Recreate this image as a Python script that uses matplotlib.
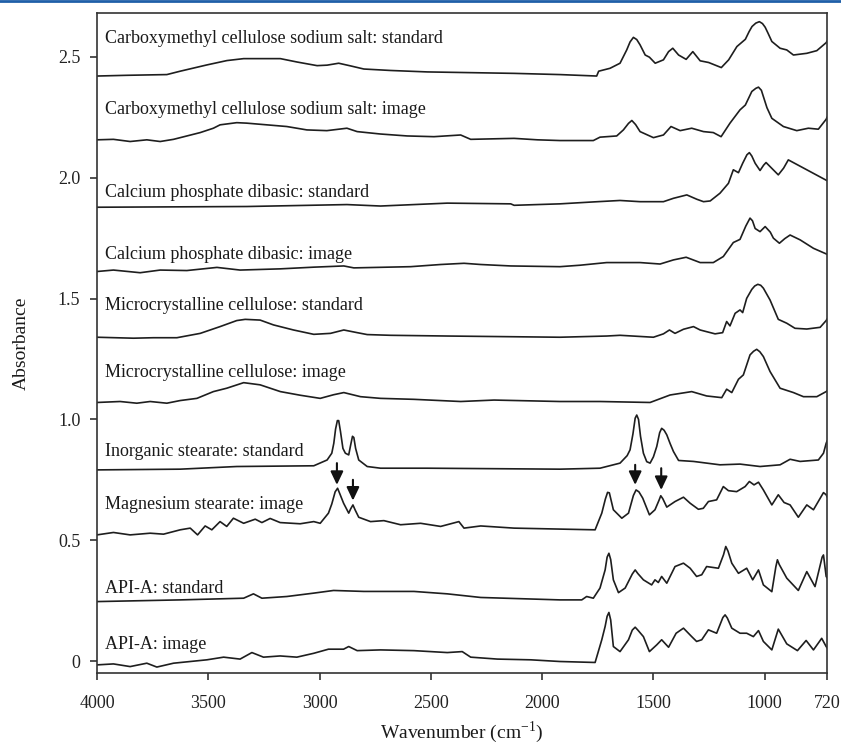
import numpy as np
import matplotlib
matplotlib.use("Agg")
import matplotlib.pyplot as plt
from matplotlib.lines import Line2D

plt.rcParams["font.family"] = ["Liberation Serif", "DejaVu Serif"]
plt.rcParams["mathtext.fontset"] = "custom"
plt.rcParams["mathtext.rm"] = "Liberation Serif"

# ---- spectra (wavenumber cm-1, absorbance) ----
cmc_std_wn = [4000, 3866, 3686, 3626, 3506, 3416, 3341, 3176, 3101, 3011, 2966, 2914, 2861, 2801,
              2681, 2516, 2321, 2126, 1920, 1755, 1746, 1695, 1650, 1620, 1605, 1590, 1575, 1560,
              1537, 1518, 1492, 1455, 1432, 1413, 1387, 1353, 1323, 1290, 1252, 1195, 1162, 1125,
              1087, 1070, 1057, 1040, 1024, 1010, 998, 985, 968, 931, 901, 871, 811, 766, 724, 720]
cmc_std_abs = [2.421, 2.424, 2.427, 2.441, 2.467, 2.485, 2.493, 2.493, 2.479, 2.464, 2.466, 2.474, 2.463, 2.450,
               2.444, 2.438, 2.435, 2.432, 2.427, 2.421, 2.441, 2.453, 2.474, 2.529, 2.562, 2.581, 2.572, 2.550,
               2.508, 2.499, 2.474, 2.488, 2.522, 2.536, 2.508, 2.490, 2.522, 2.484, 2.477, 2.456, 2.488, 2.543,
               2.573, 2.605, 2.626, 2.640, 2.646, 2.638, 2.623, 2.598, 2.564, 2.536, 2.529, 2.508, 2.515, 2.526,
               2.559, 2.565]

cmc_img_wn = [4000, 3926, 3851, 3776, 3716, 3656, 3596, 3536, 3477, 3447, 3372, 3327, 3237, 3147,
              3057, 2967, 2877, 2831, 2726, 2606, 2486, 2366, 2321, 2126, 2021, 1920, 1770, 1740,
              1665, 1635, 1612, 1597, 1580, 1560, 1500, 1455, 1421, 1380, 1328, 1275, 1231, 1196,
              1156, 1111, 1087, 1058, 1040, 1028, 1015, 1006, 990, 968, 916, 856, 804, 759, 724, 720]
cmc_img_abs = [2.157, 2.159, 2.150, 2.157, 2.150, 2.159, 2.173, 2.187, 2.205, 2.219, 2.228, 2.226, 2.219, 2.212,
               2.198, 2.195, 2.205, 2.191, 2.181, 2.173, 2.170, 2.177, 2.159, 2.163, 2.157, 2.154, 2.154, 2.168,
               2.173, 2.198, 2.225, 2.237, 2.220, 2.191, 2.166, 2.177, 2.212, 2.195, 2.205, 2.191, 2.187, 2.170,
               2.226, 2.281, 2.301, 2.357, 2.370, 2.375, 2.362, 2.336, 2.290, 2.246, 2.212, 2.195, 2.205, 2.201,
               2.242, 2.250]

cap_std_wn = [4000, 3327, 2877, 2726, 2426, 2141, 2126, 1920, 1770, 1650, 1560, 1455, 1410, 1350,
              1305, 1275, 1245, 1201, 1163, 1141, 1118, 1099, 1080, 1069, 1058, 1043, 1021, 1005,
              994, 980, 939, 915, 894, 720]
cap_std_abs = [1.878, 1.881, 1.889, 1.883, 1.895, 1.892, 1.886, 1.892, 1.900, 1.906, 1.901, 1.901, 1.915, 1.929,
               1.911, 1.901, 1.904, 1.936, 1.977, 2.033, 2.021, 2.060, 2.095, 2.104, 2.090, 2.060, 2.030, 2.052,
               2.063, 2.050, 2.012, 2.040, 2.074, 1.988]

cap_img_wn = [4000, 3926, 3806, 3716, 3596, 3461, 3357, 3176, 3026, 2891, 2846, 2591, 2456, 2351,
              2276, 2141, 1920, 1830, 1710, 1560, 1470, 1410, 1353, 1290, 1231, 1186, 1141, 1111,
              1085, 1066, 1055, 1043, 1021, 998, 975, 961, 934, 910, 886, 841, 781, 724, 720]
cap_img_abs = [1.612, 1.618, 1.607, 1.618, 1.616, 1.629, 1.618, 1.623, 1.630, 1.635, 1.627, 1.632, 1.641, 1.646,
               1.641, 1.635, 1.632, 1.638, 1.649, 1.649, 1.643, 1.660, 1.671, 1.649, 1.649, 1.674, 1.732, 1.745,
               1.800, 1.833, 1.822, 1.790, 1.777, 1.798, 1.775, 1.750, 1.729, 1.748, 1.763, 1.743, 1.708, 1.685,
               1.683]

mcc_std_wn = [4000, 3836, 3746, 3641, 3536, 3447, 3372, 3334, 3267, 3207, 3117, 3026, 2951, 2891,
              2831, 2786, 2681, 2426, 1920, 1710, 1650, 1500, 1455, 1428, 1403, 1365, 1320, 1290,
              1261, 1223, 1189, 1171, 1156, 1133, 1111, 1099, 1081, 1058, 1045, 1031, 1018, 1006,
              976, 939, 901, 864, 811, 751, 724, 720]
mcc_std_abs = [1.340, 1.336, 1.338, 1.338, 1.356, 1.384, 1.409, 1.414, 1.411, 1.391, 1.370, 1.352, 1.356, 1.370,
               1.359, 1.351, 1.348, 1.345, 1.340, 1.345, 1.348, 1.340, 1.354, 1.370, 1.356, 1.373, 1.384, 1.370,
               1.363, 1.354, 1.359, 1.405, 1.387, 1.439, 1.453, 1.442, 1.501, 1.538, 1.552, 1.559, 1.555, 1.543,
               1.494, 1.414, 1.398, 1.377, 1.374, 1.381, 1.409, 1.415]

mcc_img_wn = [4000, 3896, 3821, 3761, 3686, 3626, 3551, 3477, 3417, 3341, 3267, 3176, 3087, 2997,
              2937, 2891, 2816, 2726, 2576, 2366, 2216, 1920, 1740, 1515, 1425, 1328, 1261, 1193,
              1171, 1148, 1118, 1096, 1066, 1050, 1036, 1022, 1006, 976, 931, 871, 826, 766, 724, 720]
mcc_img_abs = [1.070, 1.074, 1.067, 1.074, 1.067, 1.078, 1.087, 1.115, 1.129, 1.152, 1.143, 1.115, 1.100, 1.087,
               1.102, 1.111, 1.094, 1.087, 1.083, 1.074, 1.080, 1.074, 1.074, 1.070, 1.101, 1.115, 1.097, 1.090,
               1.125, 1.111, 1.166, 1.184, 1.267, 1.282, 1.290, 1.280, 1.260, 1.198, 1.129, 1.111, 1.094, 1.094,
               1.115, 1.118]

ist_std_wn = [4000, 3626, 3372, 3026, 2966, 2945, 2936, 2928, 2920, 2914, 2906, 2895, 2884, 2869,
              2860, 2852, 2846, 2838, 2824, 2786, 2726, 2516, 1920, 1740, 1650, 1618, 1605, 1592,
              1582, 1575, 1567, 1558, 1545, 1530, 1515, 1500, 1485, 1472, 1463, 1452, 1440, 1425,
              1410, 1387, 1320, 1201, 1111, 1021, 931, 886, 841, 759, 736, 724, 720]
ist_std_abs = [0.791, 0.794, 0.805, 0.808, 0.832, 0.860, 0.901, 0.960, 0.995, 0.995, 0.950, 0.880, 0.860, 0.853,
               0.895, 0.930, 0.925, 0.880, 0.832, 0.805, 0.798, 0.798, 0.794, 0.798, 0.819, 0.850, 0.874, 0.940,
               1.005, 1.018, 1.000, 0.930, 0.860, 0.825, 0.819, 0.845, 0.888, 0.945, 0.963, 0.955, 0.936, 0.900,
               0.867, 0.830, 0.826, 0.812, 0.815, 0.805, 0.812, 0.835, 0.826, 0.832, 0.860, 0.901, 0.910]

mgst_img_wn = [4000, 3926, 3851, 3761, 3701, 3626, 3581, 3548, 3514, 3484, 3447, 3417, 3387, 3341,
               3289, 3259, 3222, 3177, 3087, 3026, 2997, 2960, 2945, 2930, 2919, 2908, 2892, 2869,
               2860, 2850, 2840, 2824, 2771, 2711, 2636, 2546, 2456, 2374, 2351, 2276, 2126, 1920,
               1762, 1732, 1716, 1706, 1698, 1680, 1642, 1612, 1590, 1578, 1565, 1548, 1518, 1493,
               1475, 1467, 1458, 1440, 1403, 1365, 1335, 1298, 1276, 1253, 1216, 1186, 1163, 1126,
               1088, 1069, 1048, 1028, 1006, 968, 939, 913, 886, 849, 811, 781, 736, 724, 720]
mgst_img_abs = [0.522, 0.532, 0.522, 0.529, 0.525, 0.543, 0.550, 0.522, 0.559, 0.543, 0.577, 0.557, 0.591, 0.570,
                0.587, 0.573, 0.590, 0.573, 0.568, 0.577, 0.570, 0.612, 0.650, 0.700, 0.715, 0.690, 0.653, 0.612,
                0.630, 0.646, 0.625, 0.595, 0.577, 0.581, 0.564, 0.570, 0.557, 0.577, 0.550, 0.559, 0.550, 0.546,
                0.543, 0.612, 0.670, 0.698, 0.696, 0.626, 0.591, 0.612, 0.685, 0.708, 0.700, 0.674, 0.605, 0.626,
                0.665, 0.684, 0.672, 0.637, 0.660, 0.678, 0.653, 0.628, 0.632, 0.660, 0.667, 0.722, 0.705, 0.701,
                0.722, 0.743, 0.729, 0.740, 0.708, 0.646, 0.688, 0.656, 0.646, 0.595, 0.646, 0.626, 0.697, 0.688,
                0.680]

api_std_wn = [4000, 3626, 3341, 3297, 3259, 3147, 3026, 2937, 2801, 2576, 2426, 2276, 1920, 1822,
              1800, 1770, 1740, 1717, 1708, 1700, 1692, 1680, 1657, 1627, 1595, 1582, 1570, 1545,
              1508, 1493, 1478, 1463, 1440, 1403, 1365, 1335, 1306, 1283, 1261, 1208, 1185, 1175,
              1165, 1148, 1118, 1081, 1054, 1028, 1006, 968, 950, 943, 935, 901, 849, 811, 774,
              742, 736, 724, 720]
api_std_abs = [0.246, 0.253, 0.260, 0.278, 0.260, 0.267, 0.281, 0.292, 0.288, 0.288, 0.278, 0.263, 0.253, 0.253,
               0.267, 0.260, 0.302, 0.377, 0.430, 0.446, 0.420, 0.336, 0.283, 0.302, 0.360, 0.377, 0.362, 0.336,
               0.315, 0.336, 0.325, 0.350, 0.322, 0.391, 0.405, 0.384, 0.350, 0.357, 0.391, 0.384, 0.440, 0.474,
               0.455, 0.405, 0.363, 0.384, 0.336, 0.377, 0.315, 0.287, 0.390, 0.419, 0.400, 0.343, 0.292, 0.370,
               0.308, 0.430, 0.439, 0.350, 0.345]

api_img_wn = [4000, 3926, 3851, 3776, 3731, 3656, 3581, 3506, 3431, 3357, 3304, 3252, 3177, 3102,
              3026, 2960, 2892, 2869, 2831, 2726, 2576, 2426, 2359, 2321, 2201, 2051, 1920, 1762,
              1732, 1717, 1708, 1700, 1692, 1680, 1650, 1612, 1595, 1582, 1570, 1545, 1518, 1485,
              1463, 1432, 1398, 1365, 1328, 1306, 1283, 1253, 1216, 1188, 1178, 1168, 1148, 1111,
              1081, 1051, 1028, 1006, 968, 939, 901, 853, 814, 781, 744, 724, 720]
api_img_abs = [-0.016, -0.012, -0.023, -0.009, -0.025, -0.009, -0.002, 0.005, 0.016, 0.008, 0.035, 0.016, 0.021, 0.016,
               0.032, 0.049, 0.049, 0.060, 0.043, 0.046, 0.043, 0.035, 0.039, 0.016, 0.008, 0.005, -0.002, -0.006,
               0.088, 0.143, 0.185, 0.201, 0.170, 0.060, 0.039, 0.088, 0.128, 0.140, 0.128, 0.101, 0.039, 0.067,
               0.088, 0.057, 0.115, 0.136, 0.101, 0.081, 0.088, 0.129, 0.115, 0.180, 0.191, 0.178, 0.136, 0.115,
               0.115, 0.101, 0.126, 0.081, 0.046, 0.132, 0.071, 0.043, 0.085, 0.046, 0.094, 0.060, 0.055]

spectra = [
    (cmc_std_wn, cmc_std_abs), (cmc_img_wn, cmc_img_abs),
    (cap_std_wn, cap_std_abs), (cap_img_wn, cap_img_abs),
    (mcc_std_wn, mcc_std_abs), (mcc_img_wn, mcc_img_abs),
    (ist_std_wn, ist_std_abs), (mgst_img_wn, mgst_img_abs),
    (api_std_wn, api_std_abs), (api_img_wn, api_img_abs),
]

labels = ["Carboxymethyl cellulose sodium salt: standard",
          "Carboxymethyl cellulose sodium salt: image",
          "Calcium phosphate dibasic: standard",
          "Calcium phosphate dibasic: image",
          "Microcrystalline cellulose: standard",
          "Microcrystalline cellulose: image",
          "Inorganic stearate: standard",
          "Magnesium stearate: image",
          "API-A: standard",
          "API-A: image"]
label_y = [2.575, 2.281, 1.941, 1.681, 1.470, 1.196, 0.869, 0.646, 0.302, 0.067]

# arrows marking stearate bands in the image spectrum
arrow_wn = [2922, 2850, 1582, 1465]
arrow_top = [0.819, 0.750, 0.812, 0.798]
arrow_tip = [0.729, 0.664, 0.729, 0.708]

LINE = "#1e1e1e"

fig = plt.figure(figsize=(8.41, 7.45), dpi=100)
ax = fig.add_axes([0.1153, 0.0966, 0.8681, 0.8860])

for wn, ab in spectra:
    ax.plot(wn, ab, color=LINE, lw=1.2, solid_joinstyle="round")

for txt, yy in zip(labels, label_y):
    ax.text(3964, yy, txt, ha="left", va="center", fontsize=13, color="#1a1a1a")

for xw, yt, yb in zip(arrow_wn, arrow_top, arrow_tip):
    ax.annotate("", xy=(xw, yb), xytext=(xw, yt),
                arrowprops=dict(arrowstyle="-|>,head_length=0.8,head_width=0.38",
                                color="#111111", lw=1.5, shrinkA=0, shrinkB=0))

ax.set_xlim(4000, 720)
ax.set_ylim(-0.0497, 2.682)
ax.set_xticks([4000, 3500, 3000, 2500, 2000, 1500, 1000, 720])
ax.set_xticklabels(["4000", "3500", "3000", "2500", "2000", "1500", "1000", "720"])
ax.set_yticks([0, 0.5, 1.0, 1.5, 2.0, 2.5])
ax.set_yticklabels(["0", "0.5", "1.0", "1.5", "2.0", "2.5"])
ax.tick_params(axis="both", direction="out", length=5, width=1.1, labelsize=13,
               colors="#222222")
ax.tick_params(axis="x", pad=11)
ax.tick_params(axis="y", pad=7)
for sp in ax.spines.values():
    sp.set_color("#333333")
    sp.set_linewidth(1.2)

ax.set_xlabel("Wavenumber (cm$^{\\mathregular{-1}}$)", fontsize=14, labelpad=5, color="#1a1a1a")
ax.set_ylabel("Absorbance", fontsize=14, labelpad=20, color="#1a1a1a")

# thin blue header rule at the very top of the page
fig.add_artist(Line2D([0, 1], [0.9985, 0.9985], transform=fig.transFigure,
                      color="#1f5fa8", lw=2))

fig.savefig("out.png", dpi=100, facecolor="white")
